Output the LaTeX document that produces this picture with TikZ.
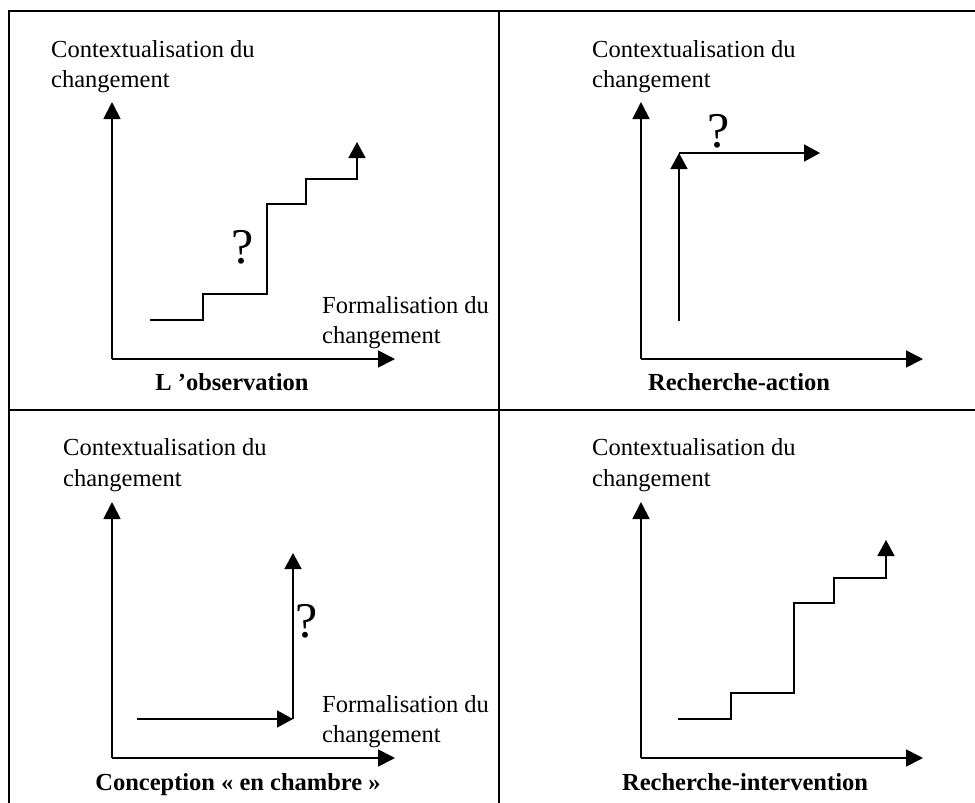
\documentclass[tikz,border=0pt]{standalone}
\usepackage{fontspec}
\setmainfont{Liberation Serif}
\usetikzlibrary{arrows.meta}
\begin{document}
\begin{tikzpicture}[x=1pt,y=-1pt,
  frame/.style={line width=1.4pt},
  axis/.style={line width=1.8pt,-{Triangle[length=17pt,width=17pt]}},
  patharrow/.style={line width=1.6pt,-{Triangle[length=16pt,width=17pt]}},
  lbl/.style={inner sep=0pt,anchor=base west,font=\fontsize{24.5}{30}\selectfont},
  ttl/.style={inner sep=0pt,anchor=base,font=\fontsize{24.5}{30}\selectfont\bfseries},
  qm/.style={inner sep=0pt,anchor=base,font=\fontsize{50}{50}\selectfont}]
\useasboundingbox (0,0) rectangle (975,803);
% frame
\coordinate (tl) at (9,11);
\coordinate (tr) at (975,11);
\coordinate (bl) at (9,803);
\coordinate (mt) at (499,11);
\coordinate (mb) at (499,803);
\coordinate (ml) at (9,410);
\coordinate (mr) at (975,410);
\draw[frame] (tr) -- (tl) -- (bl);
\draw[frame] (mt) -- (mb);
\draw[frame] (ml) -- (mr);

% ---------- Panel 1 : L'observation
\coordinate (o1) at (112,359);
\coordinate (y1) at (112,102);
\coordinate (x1) at (395,359);
\draw[axis] (o1) -- (y1);
\draw[axis] (o1) -- (x1);
\node[lbl] (c1a) at (51,57) {Contextualisation du};
\node[lbl] (c1b) at (51,87) {changement};
\node[lbl] (f1a) at (322,313) {Formalisation du};
\node[lbl] (f1b) at (322,343) {changement};
\coordinate (s1) at (150,320);
\coordinate (e1) at (357,142);
\draw[patharrow] (s1) -- (203,320) -- (203,294) -- (267,294) -- (267,204)
  -- (306,204) -- (306,179) -- (357,179) -- (e1);
\node[qm] (q1) at (243,263) {?};
\node[ttl] (t1) at (232,390) {L ’observation};

% ---------- Panel 2 : Recherche-action
\coordinate (o2) at (641,359);
\coordinate (y2) at (641,102);
\coordinate (x2) at (923,359);
\draw[axis] (o2) -- (y2);
\draw[axis] (o2) -- (x2);
\node[lbl] (c2a) at (592,57) {Contextualisation du};
\node[lbl] (c2b) at (592,87) {changement};
\coordinate (s2) at (679,321);
\coordinate (k2) at (679,153);
\coordinate (e2) at (820,153);
\draw[patharrow] (s2) -- (k2);
\draw[patharrow] (k2) -- (e2);
\node[qm] (q2) at (719,147) {?};
\node[ttl] (t2) at (739,390) {Recherche-action};

% ---------- Panel 3 : Conception en chambre
\coordinate (o3) at (112,758);
\coordinate (y3) at (112,502);
\coordinate (x3) at (395,758);
\draw[axis] (o3) -- (y3);
\draw[axis] (o3) -- (x3);
\node[lbl] (c3a) at (63,455) {Contextualisation du};
\node[lbl] (c3b) at (63,486) {changement};
\node[lbl] (f3a) at (322,712) {Formalisation du};
\node[lbl] (f3b) at (322,742) {changement};
\coordinate (s3) at (137,719);
\coordinate (k3) at (293,719);
\coordinate (e3) at (293,553);
\draw[patharrow] (s3) -- (k3);
\draw[patharrow] (k3) -- (e3);
\node[qm] (q3) at (307,637) {?};
\node[ttl] (t3) at (238,790) {Conception « en chambre »};

% ---------- Panel 4 : Recherche-intervention
\coordinate (o4) at (641,758);
\coordinate (y4) at (641,502);
\coordinate (x4) at (923,758);
\draw[axis] (o4) -- (y4);
\draw[axis] (o4) -- (x4);
\node[lbl] (c4a) at (592,455) {Contextualisation du};
\node[lbl] (c4b) at (592,486) {changement};
\coordinate (s4) at (678,719);
\coordinate (e4) at (886,540);
\draw[patharrow] (s4) -- (731,719) -- (731,693) -- (794,693) -- (794,603)
  -- (834,603) -- (834,578) -- (886,578) -- (e4);
\node[ttl] (t4) at (745,790) {Recherche-intervention};
\end{tikzpicture}
\end{document}
